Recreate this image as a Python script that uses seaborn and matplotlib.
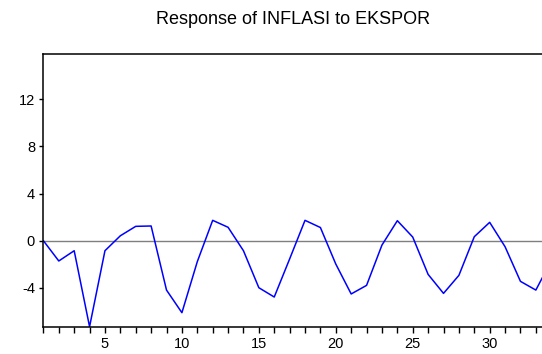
import matplotlib
matplotlib.use("Agg")
import matplotlib.pyplot as plt
import seaborn as sns
import pandas as pd
from matplotlib.ticker import MultipleLocator

periods = list(range(1, 35))
response = [0.0, -1.72, -0.85, -7.3, -0.85, 0.42, 1.22, 1.25, -4.19, -6.11,
            -1.78, 1.73, 1.14, -0.85, -3.99, -4.78, -1.55, 1.73, 1.12, -1.98,
            -4.52, -3.79, -0.37, 1.70, 0.31, -2.86, -4.47, -2.94, 0.34, 1.56,
            -0.51, -3.45, -4.19, -1.7]
title = "Response of INFLASI to EKSPOR"
yticks = [-4, 0, 4, 8, 12]

df = pd.DataFrame({"period": periods, "response": response})

sns.set_style("ticks")
plt.rcParams['font.family'] = ['Liberation Sans', 'DejaVu Sans']
plt.rcParams['text.color'] = 'black'
plt.rcParams['xtick.labelcolor'] = 'black'
plt.rcParams['ytick.labelcolor'] = 'black'

fig = plt.figure(figsize=(5.42, 3.54), dpi=100)
ax = fig.add_axes([43.4/542, (354-327.3)/354, (542-43.4)/542, (327.3-54)/354])

ax.axhline(0, color="#7f7f7f", lw=1.0, zorder=1)
sns.lineplot(data=df, x="period", y="response", ax=ax, color="#0000ff", lw=1.1, zorder=2)

ax.set_xlim(1, 33.4)
ax.set_ylim(-7.35, 15.85)
ax.xaxis.set_major_locator(MultipleLocator(5))
ax.xaxis.set_minor_locator(MultipleLocator(1))
ax.set_yticks(yticks)
ax.set_yticklabels([str(v) for v in yticks])
ax.set_xlabel("")
ax.set_ylabel("")
ax.spines['right'].set_visible(False)
for s in ['left', 'bottom', 'top']:
    ax.spines[s].set_linewidth(1.1)
    ax.spines[s].set_color("black")
ax.tick_params(axis='x', which='both', direction='out', length=4, width=1, labelsize=10.5, pad=3, color='black')
ax.tick_params(axis='y', which='major', direction='out', length=3, width=1, labelsize=10.5, pad=3, color='black')
ax.tick_params(axis='y', which='minor', left=False)

fig.text(293/542, 1 - 20/354, title, ha='center', va='center', fontsize=13, color='black')

fig.savefig("out.png", dpi=100)
